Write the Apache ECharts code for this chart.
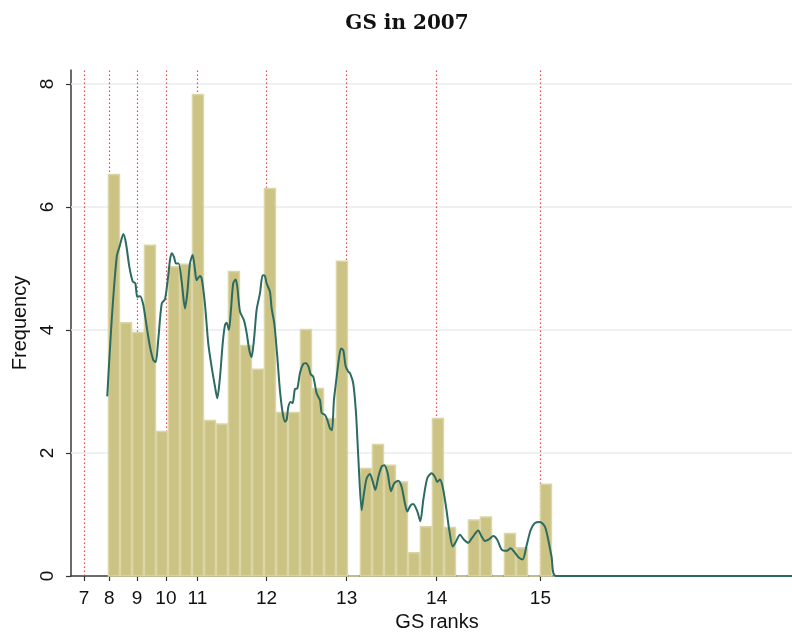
<!DOCTYPE html>
<html>
<head>
<meta charset="utf-8">
<script src="https://cdn.jsdelivr.net/npm/echarts@6/dist/echarts.min.js"></script>
<style>
  html, body { margin: 0; padding: 0; background: #fff; }
  #chart { width: 792px; height: 632px; }
</style>
</head>
<body>
<div id="chart"></div>
<script>
// Histogram of GS ranks in 2007: one value per bin (bin k spans [k, k+1] on the position scale)
const binHeights = [
  6.53, 4.12, 3.96, 5.38, 2.35, 5.03, 5.07, 7.83, 2.53, 2.47,
  4.95, 3.75, 3.36, 6.30, 2.66, 2.66, 4.01, 3.05, 2.56, 5.12,
  0,    1.75, 2.14, 1.80, 1.53, 0.38, 0.80, 2.56, 0.79, 0,
  0.91, 0.96, 0,    0.69, 0.46, 0,    1.49, 0,    0,    0,
  0,    0,    0,    0,    0,    0,    0,    0,    0,    0,
  0,    0,    0,    0,    null, null, 0
];

// Kernel density overlay: [position, frequency]
const densityPos = [
  -0.06, 0.31, 0.73, 1.00, 1.28, 1.50, 1.78, 2.06, 2.28, 2.44,
  2.67, 2.94, 3.23, 3.50, 3.78, 3.98, 4.19, 4.48, 4.75, 4.98,
  5.17, 5.31, 5.50, 5.67, 5.89, 6.14, 6.42, 6.61, 6.83, 7.06,
  7.25, 7.39, 7.67, 7.81, 8.08, 8.36, 8.64, 8.92, 9.11, 9.33,
  9.56, 9.75, 9.89, 10.08, 10.25, 10.44, 10.64, 10.78, 11.00, 11.33,
  11.56, 11.78, 11.97, 12.19, 12.39, 12.67, 12.89, 13.08, 13.22, 13.50,
  13.64, 13.86, 14.11, 14.33, 14.56, 14.75, 14.89, 15.03, 15.22, 15.39,
  15.58, 15.78, 16.00, 16.28, 16.50, 16.72, 16.89, 17.11, 17.39, 17.67,
  17.81, 18.08, 18.28, 18.50, 18.67, 18.83, 19.06, 19.25, 19.42, 19.61,
  19.81, 20.03, 20.17, 20.44, 20.67, 20.86, 21.14, 21.33, 21.56, 21.83,
  22.03, 22.28, 22.53, 22.81, 23.03, 23.31, 23.58, 23.86, 24.19, 24.47,
  24.75, 24.94, 25.22, 25.44, 25.78, 26.03, 26.28, 26.61, 26.97, 27.25,
  27.44, 27.67, 27.89, 28.17, 28.44, 28.73, 29.00, 29.33, 29.67, 30.03,
  30.31, 30.86, 31.14, 31.42, 31.78, 32.11, 32.44, 32.81, 33.23, 33.56,
  33.83, 34.19, 34.56, 34.89, 35.23, 35.58, 36.00, 36.42, 36.69, 36.97,
  37.33, 57.90
];
const densityFreq = [
  2.92, 4.16, 5.19, 5.38, 5.56, 5.41, 5.03, 4.79, 4.76, 4.54,
  4.55, 4.41, 4.05, 3.73, 3.51, 3.48, 3.84, 4.43, 4.50, 4.81,
  5.14, 5.25, 5.19, 5.08, 5.08, 4.79, 4.35, 4.60, 5.08, 5.22,
  4.98, 4.81, 4.88, 4.84, 4.43, 3.78, 3.40, 3.08, 2.89, 3.22,
  3.78, 4.08, 4.12, 4.00, 4.33, 4.76, 4.82, 4.70, 4.30, 4.16,
  3.95, 3.67, 3.56, 3.89, 4.33, 4.60, 4.89, 4.88, 4.76, 4.62,
  4.35, 4.11, 3.57, 3.02, 2.65, 2.51, 2.54, 2.75, 2.83, 2.81,
  3.04, 3.05, 3.30, 3.45, 3.46, 3.40, 3.28, 3.24, 2.97, 2.86,
  2.65, 2.62, 2.54, 2.40, 2.37, 2.86, 3.24, 3.54, 3.70, 3.67,
  3.41, 3.32, 3.30, 3.13, 2.65, 1.94, 1.07, 1.34, 1.59, 1.66,
  1.56, 1.40, 1.61, 1.78, 1.80, 1.67, 1.38, 1.51, 1.55, 1.45,
  1.18, 1.05, 1.15, 1.17, 1.05, 0.89, 1.24, 1.59, 1.67, 1.61,
  1.53, 1.57, 1.45, 1.13, 0.75, 0.48, 0.56, 0.67, 0.59, 0.54,
  0.61, 0.74, 0.64, 0.57, 0.60, 0.65, 0.59, 0.43, 0.41, 0.45,
  0.40, 0.31, 0.27, 0.50, 0.75, 0.86, 0.88, 0.80, 0.59, 0.31,
  0.00, 0.00
];

// GS rank ticks on the position scale (reference lines drawn at the same spots)
const rankTickPos = [-2.00, 0.12, 2.42, 4.83, 7.46, 13.22, 19.89, 27.39, 36.04];
const rankTickLabels = ['7', '8', '9', '10', '11', '12', '13', '14', '15'];

const freqTicks = [0, 2, 4, 6, 8];
const freqGrid = [2, 4, 6, 8];

const histData = binHeights.map((h, k) => [k, h]);
const densityData = densityPos.map((x, i) => [x, densityFreq[i]]);

const chart = echarts.init(document.getElementById('chart'), null, { renderer: 'canvas' });

const option = {
  animation: false,
  backgroundColor: '#ffffff',
  title: {
    text: 'GS in 2007',
    left: 402,
    top: 9,
    textAlign: 'center',
    textStyle: {
      fontFamily: 'DejaVu Serif',
      fontWeight: 'bold',
      fontSize: 20,
      color: '#111111'
    }
  },
  // the plot region runs a little past the right edge of the canvas
  grid: { left: 71, width: 732, top: 70, bottom: 56, containLabel: false, outerBoundsMode: 'none' },
  xAxis: {
    type: 'value',
    min: -3.08,
    max: 57.92,
    name: 'GS ranks',
    nameLocation: 'middle',
    nameGap: 33,
    nameTextStyle: { fontFamily: 'Liberation Sans', fontSize: 20, color: '#111' },
    axisLine: { show: true, onZero: false, lineStyle: { color: '#3a3a3a', width: 1.5 } },
    axisTick: { show: true, length: 5, customValues: rankTickPos, lineStyle: { color: '#333', width: 1.2 } },
    axisLabel: {
      customValues: rankTickPos,
      margin: 13,
      fontFamily: 'Liberation Sans',
      fontSize: 19,
      color: '#111',
      formatter: function (v) {
        let best = 0;
        rankTickPos.forEach((p, i) => { if (Math.abs(p - v) < Math.abs(rankTickPos[best] - v)) best = i; });
        return rankTickLabels[best];
      }
    },
    splitLine: { show: false }
  },
  yAxis: {
    type: 'value',
    min: 0,
    max: 8.228,
    name: 'Frequency',
    nameLocation: 'middle',
    nameGap: 33,
    nameTextStyle: { fontFamily: 'Liberation Sans', fontSize: 20, color: '#111' },
    axisLine: { show: true, onZero: false, lineStyle: { color: '#3a3a3a', width: 1.5 } },
    axisTick: { show: true, length: 5, customValues: freqTicks, lineStyle: { color: '#333', width: 1.2 } },
    axisLabel: {
      customValues: freqTicks,
      rotate: 90,
      margin: 14,
      fontFamily: 'Liberation Sans',
      fontSize: 19,
      color: '#111'
    },
    splitLine: { show: false }
  },
  series: [
    {
      // light horizontal gridlines and dotted red rank markers behind the bars
      type: 'line',
      data: [],
      z: 1,
      silent: true,
      markLine: {
        z: 1,
        silent: true,
        symbol: ['none', 'none'],
        label: { show: false },
        animation: false,
        data: [
          ...freqGrid.map(v => ({ yAxis: v, lineStyle: { color: '#e7edf0', width: 1.6, type: 'solid' } })),
          ...rankTickPos.map(v => ({ xAxis: v, lineStyle: { color: '#ff4040', width: 1.2, type: [1.5, 2.5] } }))
        ]
      }
    },
    {
      type: 'custom',
      z: 2,
      data: histData,
      renderItem: function (params, api) {
        const h = api.value(1);
        if (h === null || isNaN(h)) return null;
        const k = api.value(0);
        const top = api.coord([k, h]);
        const bottom = api.coord([k + 1, 0]);
        return {
          type: 'rect',
          shape: { x: top[0] + 0.5, y: top[1], width: bottom[0] - top[0] - 1, height: bottom[1] - top[1] },
          style: { fill: '#cbc383', stroke: '#dcd6a6', lineWidth: 1.5 }
        };
      }
    },
    {
      type: 'line',
      z: 3,
      data: densityData,
      smooth: 0.25,
      symbol: 'none',
      lineStyle: { color: '#2b6b61', width: 2 }
    }
  ]
};

chart.setOption(option);
</script>
</body>
</html>
